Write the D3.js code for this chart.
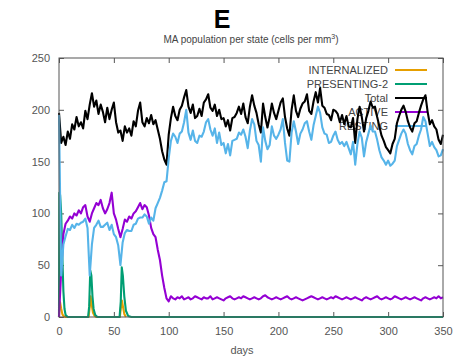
<!DOCTYPE html>
<html>
<head>
<meta charset="utf-8">
<script src="https://cdn.jsdelivr.net/npm/d3@7"></script>
<style>
  html, body { margin: 0; padding: 0; background: #fff; }
  svg { display: block; font-family: "Liberation Sans", Arial, sans-serif; }
</style>
</head>
<body>
<div id="chart"></div>
<script>
// sampled every 2 days, 0..350
const totalVals = [
  197,168,174,166,179,172,186,181,193,184,188,182,199,191,205,216,203,209,196,205,
  198,188,202,191,200,207,188,178,180,170,184,178,182,175,189,184,199,207,188,184,
  192,187,195,186,190,181,172,160,152,147,
  176,192,203,194,190,200,204,212,219,203,197,205,192,194,201,194,207,210,215,202,
  199,205,194,200,191,192,184,190,180,192,193,197,203,196,206,193,187,203,214,204,
  197,186,178,206,193,183,193,206,197,191,
  199,207,211,193,182,175,200,214,199,193,201,206,208,215,199,196,208,217,207,221,
  204,202,196,195,190,200,199,196,188,195,186,194,184,183,192,168,191,203,193,179,
  192,199,208,202,203,193,184,175,170,164,
  161,158,167,172,187,194,200,204,198,189,183,179,187,189,197,204,210,214,198,186,
  190,184,181,171,167,176
];
const restingVals = [
  195,40,70,78,85,84,89,86,90,89,91,92,95,86,40,70,86,89,93,87,
  87,89,91,84,89,80,77,69,50,72,81,84,83,83,89,90,95,96,96,99,
  97,90,96,93,105,110,115,122,130,131,
  153,170,177,174,168,177,179,188,200,178,171,180,170,168,175,174,179,188,191,181,
  175,182,168,178,166,168,158,167,156,170,171,172,178,176,181,174,163,180,191,186,
  170,166,150,183,170,162,166,184,175,172,
  176,181,191,168,151,150,178,189,179,167,177,181,187,189,179,171,185,194,203,197,
  183,177,176,168,169,175,179,171,167,169,165,169,163,157,169,147,167,179,173,155,
  169,177,185,179,179,171,161,154,151,147,
  151,146,148,151,165,171,177,181,177,167,161,157,165,167,175,181,193,189,177,165,
  169,164,161,155,156,162
];
const activeVals = [
  0,45,80,90,93,97,95,100,98,103,100,106,108,97,92,100,105,110,108,113,
  105,100,104,110,120,100,94,85,77,85,94,92,97,95,100,102,106,110,104,108,
  106,98,86,80,77,65,55,40,28,18,
  15,20,18,17,19,18,20,17,18,19,17,18,20,19,18,17,19,18,18,20,
  17,18,19,18,17,16,18,19,20,18,17,18,19,18,20,19,18,17,18,19,
  18,17,18,20,21,19,18,17,18,19,18,17,18,19,20,18,17,18,19,18,
  17,16,17,18,19,20,19,18,17,18,19,18,17,18,19,18,20,19,18,17,
  18,19,18,17,18,19,18,17,16,18,19,18,17,18,19,20,18,17,18,19,
  18,17,18,20,19,18,17,18,19,18,17,18,19,18,17,16,18,19,18,17,
  18,19,18,20,18,19
];
// short-lived states, own day points
const presentingDays = [0, 0.3, 1, 2, 3, 4, 5, 6, 8, 26.5, 27.5, 28.5, 29.5, 30.5, 31.5, 33, 35, 55.2, 56.3, 57.2, 58.2, 59.5, 61, 63, 66, 350];
const presentingVals = [0, 120, 118, 100, 60, 25, 8, 2, 0, 0, 10, 45, 40, 20, 8, 2, 0, 0, 15, 48, 40, 20, 6, 1, 0, 0];
const internalizedDays = [0, 0.3, 1, 2, 3, 4, 6, 27, 28, 28.8, 29.8, 31, 32.5, 34, 55.5, 56.5, 57.3, 58.3, 59.5, 61];
const internalizedVals = [0, 15, 14, 8, 3, 1, 0, 0, 10, 20, 12, 4, 1, 0, 0, 10, 16, 10, 3, 0];

const xTicks = [0, 50, 100, 150, 200, 250, 300, 350];
const yTicks = [0, 50, 100, 150, 200, 250];

const seriesNames = ['INTERNALIZED', 'PRESENTING-2', 'Total', 'ACTIVE', 'RESTING'];
const seriesColors = ['#e69f00', '#009e73', '#000000', '#9400d3', '#56b4e9'];

const width = 454, height = 359;
const margin = { top: 58, right: 11, bottom: 42, left: 59 };
const innerW = width - margin.left - margin.right;
const innerH = height - margin.top - margin.bottom;

const gridDays = d3.range(0, 351, 2);
const pairs = vals => vals.map((v, i) => [gridDays[i], v]);
const zipDays = (days, vals) => days.map((d, i) => [d, vals[i]]);

const series = [
  zipDays(internalizedDays, internalizedVals),
  zipDays(presentingDays, presentingVals),
  pairs(totalVals),
  pairs(activeVals),
  pairs(restingVals)
];

const svg = d3.select('#chart').append('svg')
  .attr('width', width)
  .attr('height', height);

const g = svg.append('g').attr('transform', `translate(${margin.left},${margin.top})`);

const x = d3.scaleLinear().domain([0, 350]).range([0, innerW]);
const y = d3.scaleLinear().domain([0, 250]).range([innerH, 0]);

const textColor = '#555';
const borderColor = '#555';

// title
svg.append('text')
  .attr('x', 222).attr('y', 28)
  .attr('text-anchor', 'middle')
  .attr('font-size', 25).attr('font-weight', 'bold')
  .attr('fill', '#000')
  .text('E');

const sub = svg.append('text')
  .attr('x', 251).attr('y', 43)
  .attr('text-anchor', 'middle')
  .attr('font-size', 10)
  .attr('fill', '#444');
sub.append('tspan').text('MA population per state (cells per mm');
sub.append('tspan').attr('font-size', 7).attr('dy', -4).text('3');
sub.append('tspan').attr('dy', 4).text(')');

// axes (ticks inside, mirrored)
g.append('g')
  .attr('transform', `translate(0,${innerH})`)
  .call(d3.axisBottom(x).tickValues(xTicks).tickSize(-5).tickPadding(10))
  .call(a => a.select('.domain').remove())
  .call(a => a.selectAll('.tick line').attr('stroke', borderColor))
  .call(a => a.selectAll('.tick text').attr('fill', textColor).style('font-size', '11px')
    .style('font-family', '"Liberation Sans", Arial, sans-serif'));

g.append('g')
  .call(d3.axisTop(x).tickValues(xTicks).tickSize(-5).tickFormat(''))
  .call(a => a.select('.domain').remove())
  .call(a => a.selectAll('.tick line').attr('stroke', borderColor));

g.append('g')
  .call(d3.axisLeft(y).tickValues(yTicks).tickSize(-5).tickPadding(9))
  .call(a => a.select('.domain').remove())
  .call(a => a.selectAll('.tick line').attr('stroke', borderColor))
  .call(a => a.selectAll('.tick text').attr('fill', textColor).style('font-size', '11px')
    .style('font-family', '"Liberation Sans", Arial, sans-serif'));

g.append('g')
  .attr('transform', `translate(${innerW},0)`)
  .call(d3.axisRight(y).tickValues(yTicks).tickSize(-5).tickFormat(''))
  .call(a => a.select('.domain').remove())
  .call(a => a.selectAll('.tick line').attr('stroke', borderColor));

// x label
svg.append('text')
  .attr('x', 242).attr('y', 354)
  .attr('text-anchor', 'middle')
  .attr('font-size', 11)
  .attr('fill', textColor)
  .text('days');

// legend (lines drawn over it later)
const legend = g.append('g');
seriesNames.forEach((name, i) => {
  const ly = 12 + i * 14;
  legend.append('text')
    .attr('x', 329).attr('y', ly).attr('dy', '0.35em')
    .attr('text-anchor', 'end')
    .attr('font-size', 11)
    .attr('fill', '#444')
    .text(name);
  legend.append('line')
    .attr('x1', 336).attr('x2', 368)
    .attr('y1', ly).attr('y2', ly)
    .attr('stroke', seriesColors[i])
    .attr('stroke-width', 2);
});

// lines
const line = d3.line()
  .x(d => x(d[0]))
  .y(d => y(d[1]));

series.forEach((pts, i) => {
  g.append('path')
    .datum(pts)
    .attr('fill', 'none')
    .attr('stroke', seriesColors[i])
    .attr('stroke-width', 2.1)
    .attr('stroke-linejoin', 'round')
    .attr('d', line);
});

// border
g.append('rect')
  .attr('width', innerW).attr('height', innerH)
  .attr('fill', 'none')
  .attr('stroke', borderColor)
  .attr('stroke-width', 1);
</script>
</body>
</html>
